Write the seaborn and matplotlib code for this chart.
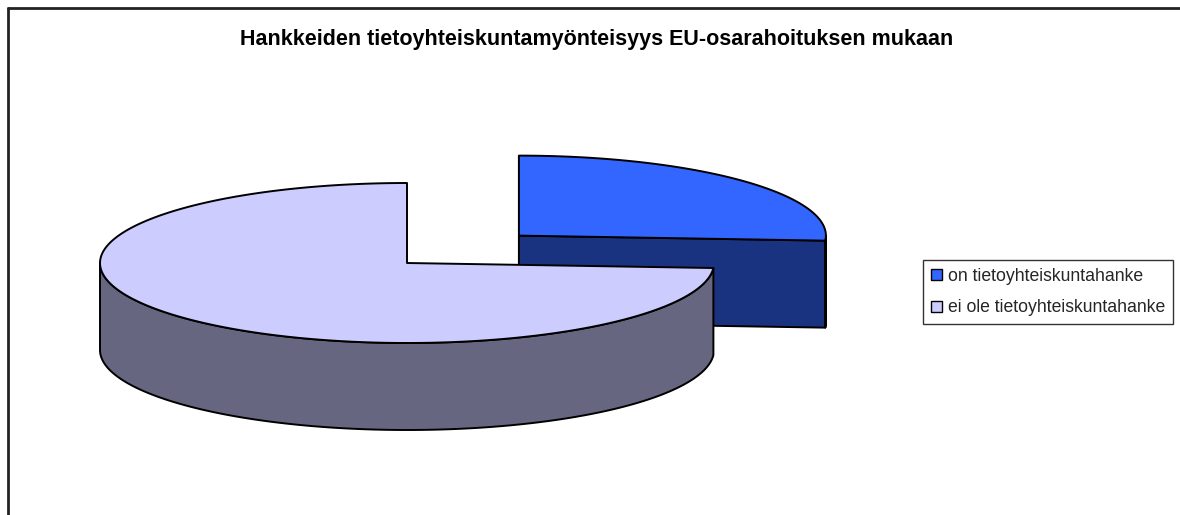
# 3D-style pie: project share by EU co-financing
import numpy as np
import seaborn as sns
import matplotlib.pyplot as plt
from matplotlib.patches import Polygon, Patch
from matplotlib.lines import Line2D

sns.set_theme(style="white")
plt.rcParams['font.family'] = ['Liberation Sans', 'DejaVu Sans']

# data
title = "Hankkeiden tietoyhteiskuntamyönteisyys EU-osarahoituksen mukaan"
labels = ["on tietoyhteiskuntahanke", "ei ole tietoyhteiskuntahanke"]
values = [26, 74]
explode = [0.5, 0.0]

# styles
top_colors = ["#3366FF", "#CCCCFF"]
side_colors = ["#1A3380", "#666680"]

# layout (pixel coords of the figure)
W, H = 1180, 515
CX, CY = 407, 263      # centre of the top face of the pie
RX, RY = 307, 80       # ellipse radii
DEPTH = 87             # thickness of the pie
START = 90             # first slice starts at 12 o'clock, goes clockwise


def pt(cx, cy, ang, dz=0):
    a = np.radians(ang)
    return cx + RX * np.cos(a), cy - RY * np.sin(a) + dz


def arc(cx, cy, a1, a2, dz=0, n=200):
    t = np.linspace(a1, a2, n)
    return [pt(cx, cy, x, dz) for x in t]


fig = plt.figure(figsize=(W / 100, H / 100), dpi=100)
ax = fig.add_axes([0, 0, 1, 1])
ax.set_xlim(0, W)
ax.set_ylim(H, 0)
ax.axis('off')

# slice geometry from the values
total = sum(values)
slices = []
cum = 0
for i, v in enumerate(values):
    a2 = START - cum / total * 360
    cum += v
    a1 = START - cum / total * 360
    mid = np.radians((a1 + a2) / 2)
    cx = CX + explode[i] * RX * np.cos(mid)
    cy = CY - explode[i] * RY * np.sin(mid)
    slices.append((cy, i, a1, a2, cx))

edge = dict(edgecolor="black", linewidth=1.4, joinstyle="round")

# back slices first
for cy, i, a1, a2, cx in sorted(slices):
    # radial side faces facing the viewer
    for ang, vis in ((a1, np.cos(np.radians(a1)) > 1e-6),
                     (a2, np.cos(np.radians(a2)) < -1e-6)):
        if vis:
            p = [(cx, cy), pt(cx, cy, ang), pt(cx, cy, ang, DEPTH), (cx, cy + DEPTH)]
            ax.add_patch(Polygon(p, closed=True, facecolor=side_colors[i], **edge))
    # outer wall, only the front half is visible
    t = np.linspace(a1, a2, 400)
    front = np.sin(np.radians(t)) <= 0
    if front.any():
        idx = np.where(front)[0]
        groups = np.split(idx, np.where(np.diff(idx) > 1)[0] + 1)
        for g in groups:
            b1, b2 = t[g[0]], t[g[-1]]
            p = arc(cx, cy, b1, b2) + arc(cx, cy, b2, b1, DEPTH)
            ax.add_patch(Polygon(p, closed=True, facecolor=side_colors[i], **edge))
    # top face
    p = [(cx, cy)] + arc(cx, cy, a1, a2)
    ax.add_patch(Polygon(p, closed=True, facecolor=top_colors[i], **edge))

ax.text(597, 40, title, ha="center", va="center", fontsize=15.5,
        fontweight="bold", color="black")

handles = [Patch(facecolor=c, edgecolor="black", linewidth=1) for c in top_colors]
leg = fig.legend(handles, labels, loc="center left",
                 bbox_to_anchor=(923 / W, 1 - 292 / H), fontsize=12.7,
                 frameon=True, fancybox=False, edgecolor="black",
                 handlelength=0.6, handleheight=0.6, handletextpad=0.35,
                 labelspacing=0.85, borderpad=0.45, borderaxespad=0)
leg.get_frame().set_linewidth(1)

# chart-area border (only top and left visible)
ax.add_line(Line2D([8, W], [8, 8], color="#222222", linewidth=2))
ax.add_line(Line2D([8, 8], [8, H], color="#222222", linewidth=2))

fig.savefig("out.png", dpi=100, facecolor="white")
